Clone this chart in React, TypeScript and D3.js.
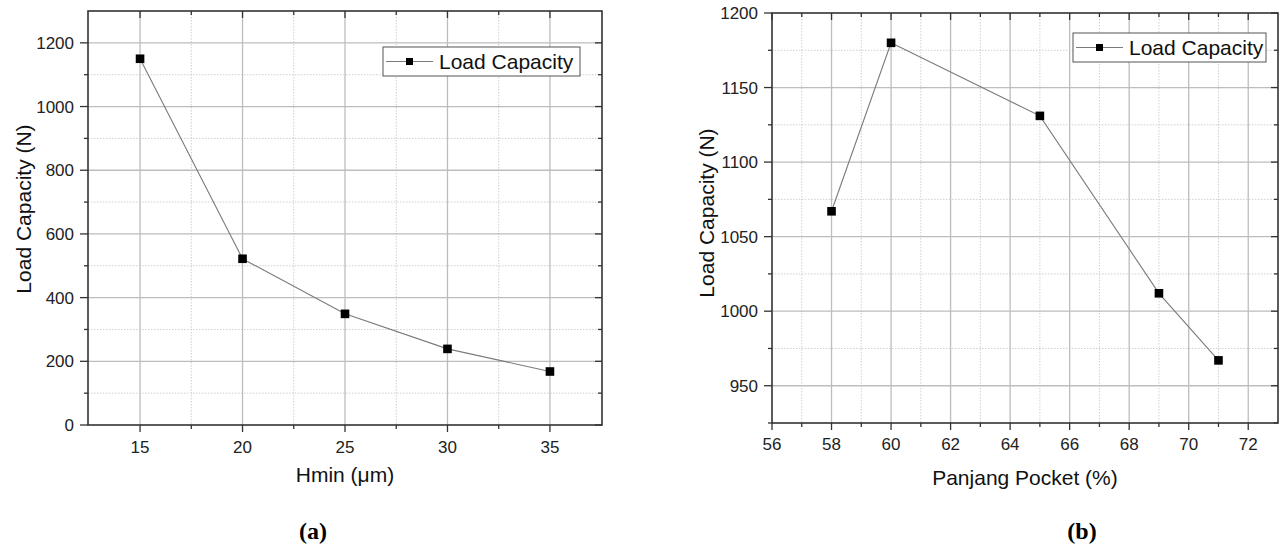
import React from "react";
import * as d3 from "d3";

const hminValues = [15, 20, 25, 30, 35];
const loadA = [1150, 522, 349, 239, 168];
const pocketValues = [58, 60, 65, 69, 71];
const loadB = [1067, 1180, 1131, 1012, 967];

const xTicksA = [15, 20, 25, 30, 35];
const xMinorA = [17.5, 22.5, 27.5, 32.5];
const yTicksA = [0, 200, 400, 600, 800, 1000, 1200];
const yMinorA = [100, 300, 500, 700, 900, 1100];

const xTicksB = [56, 58, 60, 62, 64, 66, 68, 70, 72];
const xMinorB = [57, 59, 61, 63, 65, 67, 69, 71];
const yTicksB = [950, 1000, 1050, 1100, 1150, 1200];
const yMinorB = [925, 975, 1025, 1075, 1125, 1175];

const legendLabel = "Load Capacity";

const SANS = "'Liberation Sans', Arial, Helvetica, sans-serif";
const SERIF = "'Liberation Serif', 'Times New Roman', serif";

type PanelProps = {
  xs: number[];
  ys: number[];
  xDomain: [number, number];
  yDomain: [number, number];
  box: { l: number; t: number; r: number; b: number };
  xTicks: number[];
  xMinor: number[];
  yTicks: number[];
  yMinor: number[];
  xTitle: string;
  yTitle: string;
  xTitleY: number;
  yTitleX: number;
  yTitleY: number;
  tickLabelRight: number;
  xTickLabelY: number;
  legend: { l: number; t: number; r: number; b: number };
  tag: string;
  tagX: number;
  tagY: number;
};

function Panel(p: PanelProps) {
  const x = d3.scaleLinear().domain(p.xDomain).range([p.box.l, p.box.r]);
  const y = d3.scaleLinear().domain(p.yDomain).range([p.box.b, p.box.t]);
  const line = d3
    .line<number>()
    .x((_, i) => x(p.xs[i]))
    .y((d) => y(d));
  const { l, t, r, b } = p.box;
  const major = 7;
  const minor = 4;
  const inRangeY = (v: number) => y(v) > t + 0.5 && y(v) < b - 0.5;
  const lg = p.legend;
  const lgMid = (lg.t + lg.b) / 2;
  return (
    <g>
      {p.xMinor.map((v) => (
        <line key={"gxm" + v} x1={x(v)} x2={x(v)} y1={t} y2={b} stroke="#cfcfcf" strokeWidth={1} strokeDasharray="1.5,1.5" />
      ))}
      {p.yMinor.filter(inRangeY).map((v) => (
        <line key={"gym" + v} x1={l} x2={r} y1={y(v)} y2={y(v)} stroke="#cfcfcf" strokeWidth={1} strokeDasharray="1.5,1.5" />
      ))}
      {p.xTicks.filter((v) => x(v) > l + 0.5 && x(v) < r - 0.5).map((v) => (
        <line key={"gx" + v} x1={x(v)} x2={x(v)} y1={t} y2={b} stroke="#bdbdbd" strokeWidth={1.3} />
      ))}
      {p.yTicks.filter(inRangeY).map((v) => (
        <line key={"gy" + v} x1={l} x2={r} y1={y(v)} y2={y(v)} stroke="#bdbdbd" strokeWidth={1.3} />
      ))}
      {p.xTicks.map((v) => (
        <g key={"tx" + v}>
          <line x1={x(v)} x2={x(v)} y1={b} y2={b + major} stroke="#333" strokeWidth={1.3} />
          <line x1={x(v)} x2={x(v)} y1={t} y2={t + major} stroke="#333" strokeWidth={1.3} />
          <text x={x(v)} y={p.xTickLabelY} textAnchor="middle" fontFamily={SANS} fontSize={17} fill="#222">
            {v}
          </text>
        </g>
      ))}
      {p.xMinor.map((v) => (
        <g key={"txm" + v}>
          <line x1={x(v)} x2={x(v)} y1={b} y2={b + minor} stroke="#333" strokeWidth={1.3} />
          <line x1={x(v)} x2={x(v)} y1={t} y2={t + minor} stroke="#333" strokeWidth={1.3} />
        </g>
      ))}
      {p.yTicks.map((v) => (
        <g key={"ty" + v}>
          <line x1={l - major - 1} x2={l} y1={y(v)} y2={y(v)} stroke="#333" strokeWidth={1.3} />
          <line x1={r - major} x2={r} y1={y(v)} y2={y(v)} stroke="#333" strokeWidth={1.3} />
          <text x={p.tickLabelRight} y={y(v)} dy="0.36em" textAnchor="end" fontFamily={SANS} fontSize={17} fill="#222">
            {v}
          </text>
        </g>
      ))}
      {p.yMinor.map((v) => (
        <g key={"tym" + v}>
          <line x1={l - minor} x2={l} y1={y(v)} y2={y(v)} stroke="#333" strokeWidth={1.3} />
          <line x1={r - minor} x2={r} y1={y(v)} y2={y(v)} stroke="#333" strokeWidth={1.3} />
        </g>
      ))}
      <rect x={l} y={t} width={r - l} height={b - t} fill="none" stroke="#333" strokeWidth={1.6} />
      <path d={line(p.ys) || ""} fill="none" stroke="#7a7a7a" strokeWidth={1.1} />
      {p.ys.map((v, i) => (
        <rect key={"m" + i} x={x(p.xs[i]) - 4.3} y={y(v) - 4.3} width={8.6} height={8.6} fill="#000" />
      ))}
      <rect x={lg.l} y={lg.t} width={lg.r - lg.l} height={lg.b - lg.t} fill="#fff" stroke="#555" strokeWidth={1} />
      <line x1={lg.l + 3} x2={lg.l + 50} y1={lgMid} y2={lgMid} stroke="#7a7a7a" strokeWidth={1.1} />
      <rect x={lg.l + 26.5 - 3.5} y={lgMid - 3.5} width={7} height={7} fill="#000" />
      <text x={lg.l + 56} y={lgMid} dy="0.36em" fontFamily={SANS} fontSize={21} fill="#111">
        {legendLabel}
      </text>
      <text x={(l + r) / 2} y={p.xTitleY} dy="0.36em" textAnchor="middle" fontFamily={SANS} fontSize={21} fill="#111">
        {p.xTitle}
      </text>
      <text
        transform={`translate(${p.yTitleX},${p.yTitleY}) rotate(-90)`}
        dy="0.36em"
        textAnchor="middle"
        fontFamily={SANS}
        fontSize={21}
        fill="#111"
      >
        {p.yTitle}
      </text>
      <text x={p.tagX} y={p.tagY} textAnchor="middle" fontFamily={SERIF} fontWeight="bold" fontSize={24} fill="#000">
        {p.tag}
      </text>
    </g>
  );
}

export default function App() {
  return (
    <svg
      width={1285}
      height={546}
      viewBox="0 0 1285 546"
      style={{ position: "absolute", left: 0, top: 0, background: "#fff" }}
    >
      <rect x={0} y={0} width={1285} height={546} fill="#fff" />
      <Panel
        xs={hminValues}
        ys={loadA}
        xDomain={[12.46, 37.54]}
        yDomain={[0, 1300]}
        box={{ l: 88, t: 11, r: 602, b: 425 }}
        xTicks={xTicksA}
        xMinor={xMinorA}
        yTicks={yTicksA}
        yMinor={yMinorA}
        xTitle="Hmin (μm)"
        yTitle="Load Capacity (N)"
        xTitleY={474}
        yTitleX={23}
        yTitleY={209}
        tickLabelRight={74}
        xTickLabelY={453}
        legend={{ l: 383, t: 47, r: 580, b: 76 }}
        tag="(a)"
        tagX={313}
        tagY={539}
      />
      <Panel
        xs={pocketValues}
        ys={loadB}
        xDomain={[56, 73]}
        yDomain={[925, 1200]}
        box={{ l: 772, t: 13, r: 1278, b: 423 }}
        xTicks={xTicksB}
        xMinor={xMinorB}
        yTicks={yTicksB}
        yMinor={yMinorB}
        xTitle="Panjang Pocket (%)"
        yTitle="Load Capacity (N)"
        xTitleY={477}
        yTitleX={706}
        yTitleY={213}
        tickLabelRight={758}
        xTickLabelY={450}
        legend={{ l: 1073, t: 33, r: 1266, b: 62 }}
        tag="(b)"
        tagX={1082}
        tagY={539}
      />
    </svg>
  );
}
